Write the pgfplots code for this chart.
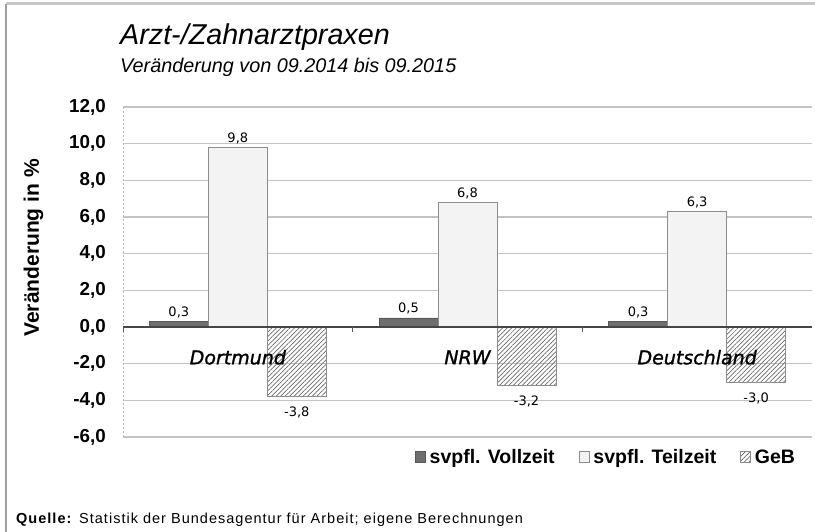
\documentclass[border=0pt]{standalone}
\usepackage{fontspec}
\setmainfont{Liberation Sans}
\newfontfamily\dv{DejaVu Sans}
\newfontfamily\dvcat{DejaVu Sans Oblique}[FakeBold=1.2]
\usepackage{pgfplots}
\pgfplotsset{compat=1.18}
\usetikzlibrary{patterns.meta}
\definecolor{vz}{HTML}{6E6E6E}
\definecolor{tzf}{HTML}{F3F3F3}
\definecolor{tzd}{HTML}{8C8C8C}
\definecolor{hatch}{HTML}{6A6A6A}
\definecolor{gridc}{HTML}{C4C4C4}
\begin{document}
\begin{tikzpicture}
\path[use as bounding box] (0,0) rectangle (815pt,-532pt);
\draw[gray!45, line width=3pt] (6pt,-4pt) -- (815pt,-4pt);
\draw[gray!75, line width=1.5pt] (6pt,-532pt) -- (6pt,-4pt);
\node[anchor=base west, inner sep=0pt, font=\itshape\fontsize{28.7}{28.7}\selectfont] at (120pt,-45pt) {Arzt-/Zahnarztpraxen};
\node[anchor=base west, inner sep=0pt, font=\itshape\fontsize{19.8}{19.8}\selectfont] at (120pt,-73pt) {Veränderung von 09.2014 bis 09.2015};
\node[anchor=base west, inner sep=0pt, font=\fontsize{14.5}{14.5}\selectfont\addfontfeature{LetterSpace=7}] at (16pt,-523pt) {\textbf{Quelle:} Statistik der Bundesagentur für Arbeit; eigene Berechnungen};
\begin{axis}[
  at={(123pt,-437pt)}, anchor=south west,
  scale only axis, width=689pt, height=330pt,
  xmin=-0.5, xmax=2.5, ymin=-6, ymax=12,
  ybar=0pt, bar width=59pt,
  xtick=\empty,
  ytick={-6,-4,...,12},
  ymajorgrids, grid style={gridc, line width=1.2pt},
  axis line style={draw=none},
  major tick length=0pt,
  /pgf/number format/.cd, fixed, fixed zerofill, precision=1, use comma, assume math mode=true,
  /pgfplots/.cd,
  yticklabel style={font=\bfseries\fontsize{18.8}{18.8}\selectfont, inner sep=0pt, anchor=east, xshift=-17pt},
  ylabel={Veränderung in \%},
  every axis y label/.style={at={(axis description cs:-0.130,0.573)}, rotate=90, anchor=center, font=\bfseries\fontsize{21}{21}\selectfont},
  nodes near coords,
  every node near coord/.append style={font=\dv\fontsize{13}{13}\selectfont, text=black},
  legend columns=3,
  legend style={at={(axis description cs:0.424,-0.0606)}, anchor=west, draw=none, fill=none, inner sep=0pt,
    font=\bfseries\fontsize{19.5}{19.5}\selectfont,
    /tikz/every odd column/.style={column sep=2pt},
    /tikz/every even column/.style={column sep=22pt}},
  legend image code/.code={\draw[#1] (0pt,-5.5pt) rectangle (10pt,5.5pt);},
]
\addplot[fill=vz, draw=vz!80!black] coordinates {(0,0.3) (1,0.5) (2,0.3)};
\addplot[fill=tzf, draw=tzd, line width=0.8pt] coordinates {(0,9.8) (1,6.8) (2,6.3)};
\addplot[draw=tzd, line width=0.6pt, pattern={Lines[angle=45,distance=3.2pt,line width=0.7pt]}, pattern color=hatch,
  every node near coord/.append style={yshift=-7pt}] coordinates {(0,-3.8) (1,-3.2) (2,-3.0)};
\legend{svpfl. Vollzeit, svpfl. Teilzeit, GeB}
\draw[gray!55!black, line width=1.5pt] (axis cs:-0.5,0) -- (axis cs:2.5,0);
\draw[gray!55, line width=0.6pt, dash pattern=on 2pt off 2pt] (rel axis cs:0,0) -- (rel axis cs:0,1);
\draw[gray!70!black, line width=0.8pt] (axis cs:-0.5,0) -- (axis cs:-0.5,-0.28);
\draw[gray!70!black, line width=0.8pt] (axis cs:0.5,0) -- (axis cs:0.5,-0.28);
\draw[gray!70!black, line width=0.8pt] (axis cs:1.5,0) -- (axis cs:1.5,-0.28);
\node[font=\dvcat\fontsize{19}{19}\selectfont] at (axis cs:0,-1.65) {Dortmund};
\node[font=\dvcat\fontsize{19}{19}\selectfont] at (axis cs:1,-1.65) {NRW};
\node[font=\dvcat\fontsize{19}{19}\selectfont] at (axis cs:2,-1.65) {Deutschland};
\end{axis}
\end{tikzpicture}
\end{document}
